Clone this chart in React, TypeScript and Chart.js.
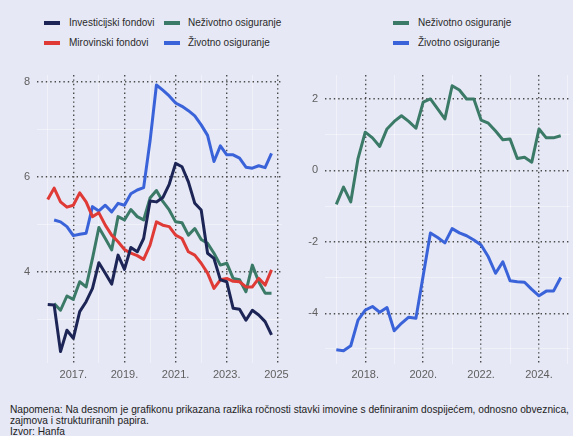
import React, { useEffect, useRef } from 'react';
import { Chart, registerables } from 'chart.js';

Chart.register(...registerables);

// ---------- data ----------
const LEFT_YEARS = [2016, 2017, 2018, 2019, 2020, 2021, 2022, 2023, 2024];
const RIGHT_YEARS = [2017, 2018, 2019, 2020, 2021, 2022, 2023, 2024];
const QUARTERS = [0, 0.25, 0.5, 0.75];

const INVESTICIJSKI = [3.31, 3.3, 2.32, 2.77, 2.6, 3.16, 3.37, 3.65, 4.19, 3.97, 3.74, 4.35, 4.05, 4.51, 4.42, 4.7, 5.49, 5.47, 5.56, 5.84, 6.28, 6.21, 5.89, 5.44, 5.3, 4.39, 4.28, 3.83, 3.79, 3.23, 3.21, 2.98, 3.19, 3.09, 2.95, 2.67];
const MIROVINSKI = [5.52, 5.76, 5.47, 5.36, 5.4, 5.66, 5.47, 5.16, 5.24, 4.98, 4.77, 4.63, 4.47, 4.39, 4.34, 4.26, 4.56, 5.05, 4.98, 4.95, 4.77, 4.7, 4.42, 4.35, 4.18, 3.97, 3.65, 3.83, 3.86, 3.8, 3.79, 3.68, 3.68, 3.86, 3.72, 4.04];
const NEZIVOTNO_L = [null, 3.33, 3.19, 3.49, 3.42, 3.79, 3.68, 4.28, 4.93, 4.7, 4.46, 5.16, 5.09, 5.31, 5.16, 5.09, 5.55, 5.71, 5.48, 5.3, 5.05, 5.03, 4.77, 4.91, 4.68, 4.6, 4.39, 4.14, 4.18, 3.86, 3.83, 3.58, 4.14, 3.79, 3.55, 3.55];
const ZIVOTNO_L = [null, 5.09, 5.05, 4.95, 4.76, 4.79, 4.81, 5.37, 5.28, 5.4, 5.26, 5.44, 5.4, 5.64, 5.72, 5.77, 6.75, 7.93, 7.82, 7.7, 7.55, 7.48, 7.39, 7.28, 7.09, 6.87, 6.32, 6.65, 6.46, 6.46, 6.39, 6.2, 6.18, 6.23, 6.19, 6.49];

const NEZIVOTNO_R = [-0.95, -0.47, -0.88, 0.33, 1.07, 0.91, 0.67, 1.16, 1.37, 1.53, 1.37, 1.18, 1.91, 2.0, 1.72, 1.44, 2.37, 2.25, 2.0, 2.0, 1.41, 1.32, 1.1, 0.86, 0.88, 0.33, 0.37, 0.23, 1.16, 0.91, 0.91, 0.97];
const ZIVOTNO_R = [-5.02, -5.05, -4.91, -4.19, -3.91, -3.81, -3.97, -3.84, -4.49, -4.28, -4.11, -4.14, -2.95, -1.75, -1.88, -2.03, -1.63, -1.75, -1.83, -1.95, -2.09, -2.42, -2.88, -2.56, -3.09, -3.12, -3.13, -3.33, -3.51, -3.38, -3.38, -3.0];

const LEFT_X_TICKS = [2016, 2017, 2018, 2019, 2020, 2021, 2022, 2023, 2024, 2025];
const LEFT_X_LABELS = [2017, 2019, 2021, 2023, 2025];
const LEFT_Y_TICKS = [3, 4, 5, 6, 7, 8];
const LEFT_Y_LABELS = [4, 6, 8];
const RIGHT_X_TICKS = [2017, 2018, 2019, 2020, 2021, 2022, 2023, 2024, 2025];
const RIGHT_X_LABELS = [2018, 2020, 2022, 2024];
const RIGHT_Y_TICKS = [-5, -4, -3, -2, -1, 0, 1, 2];
const RIGHT_Y_LABELS = [-4, -2, 0, 2];

const C_INV = '#1c2556';
const C_MIR = '#e03a36';
const C_NEZ = '#3b7a67';
const C_ZIV = '#3a63da';
const BG = '#e6e8f5';
const FONT = "'Liberation Sans', Arial, sans-serif";

const periods = (years: number[]) => years.flatMap((y) => QUARTERS.map((q) => y + q));
const series = (xs: number[], ys: (number | null)[]) => ys.map((y, i) => ({ x: xs[i], y }));

function makeOptions(cfg: any) {
  const majorX = (v: number) => cfg.xLabels.includes(v);
  const majorY = (v: number) => cfg.yLabels.includes(v);
  return {
    animation: false,
    responsive: false,
    devicePixelRatio: 1,
    layout: { padding: { top: 15, right: cfg.padRight, left: 0, bottom: 0 } },
    plugins: { legend: { display: false }, tooltip: { enabled: false } },
    elements: { point: { radius: 0 }, line: { tension: 0, borderWidth: 3, borderJoinStyle: 'round' } },
    scales: {
      x: {
        type: 'linear',
        min: cfg.xMin,
        max: cfg.xMax,
        afterBuildTicks: (s: any) => { s.ticks = cfg.xTicks.map((v: number) => ({ value: v })); },
        afterFit: (s: any) => { s.height = cfg.xHeight; s.paddingLeft = 0; s.paddingRight = 0; },
        ticks: {
          autoSkip: false,
          maxRotation: 0,
          padding: cfg.xPad,
          color: '#5f5f5f',
          font: { family: FONT, size: 11 },
          callback: (v: any) => (majorX(Number(v)) ? `${v}.` : ''),
        },
        grid: {
          drawTicks: false,
          color: (c: any) => (c.tick && majorX(c.tick.value) ? '#4a4a4a' : 'rgba(255,255,255,0.45)'),
          lineWidth: (c: any) => (c.tick && majorX(c.tick.value) ? 1.4 : 1),
        },
        border: { display: false, dash: (c: any) => (c.tick && majorX(c.tick.value) ? [1.4, 3] : []) },
      },
      y: {
        type: 'linear',
        min: cfg.yMin,
        max: cfg.yMax,
        afterBuildTicks: (s: any) => { s.ticks = cfg.yTicks.map((v: number) => ({ value: v })); },
        afterFit: (s: any) => { s.width = cfg.yWidth; s.paddingTop = 0; s.paddingBottom = 0; },
        ticks: {
          autoSkip: false,
          padding: 7,
          color: '#5f5f5f',
          font: { family: FONT, size: 11 },
          callback: (v: any) => (majorY(Number(v)) ? String(v) : ''),
        },
        grid: {
          drawTicks: false,
          color: (c: any) => (c.tick && majorY(c.tick.value) ? '#4a4a4a' : 'rgba(255,255,255,0.45)'),
          lineWidth: (c: any) => (c.tick && majorY(c.tick.value) ? 1.4 : 1),
        },
        border: { display: false, dash: (c: any) => (c.tick && majorY(c.tick.value) ? [1.4, 3] : []) },
      },
    },
  };
}

function ChartCanvas({ left, width, build }: { left: number; width: number; build: (c: HTMLCanvasElement) => Chart }) {
  const ref = useRef<HTMLCanvasElement | null>(null);
  useEffect(() => {
    if (!ref.current) return;
    const chart = build(ref.current);
    return () => chart.destroy();
  }, []);
  return (
    <canvas
      ref={ref}
      width={width}
      height={330}
      style={{ position: 'absolute', left, top: 60, width, height: 330 }}
    />
  );
}

const legendText: React.CSSProperties = {
  position: 'absolute',
  fontFamily: FONT,
  fontSize: 10,
  lineHeight: '14px',
  color: '#2a2a2a',
  whiteSpace: 'nowrap',
};

function LegendItem({ x, y, color, label, textX }: { x: number; y: number; color: string; label: string; textX: number }) {
  return (
    <>
      <div style={{ position: 'absolute', left: x, top: y - 2, width: 16, height: 4, background: color }} />
      <span style={{ ...legendText, left: textX, top: y - 7 }}>{label}</span>
    </>
  );
}

export default function App() {
  const lx = periods(LEFT_YEARS);
  const rx = periods(RIGHT_YEARS);

  const buildLeft = (c: HTMLCanvasElement) =>
    new Chart(c, {
      type: 'line',
      data: {
        datasets: [
          { label: 'Investicijski fondovi', data: series(lx, INVESTICIJSKI), borderColor: C_INV, backgroundColor: C_INV },
          { label: 'Mirovinski fondovi', data: series(lx, MIROVINSKI), borderColor: C_MIR, backgroundColor: C_MIR },
          { label: 'Neživotno osiguranje', data: series(lx, NEZIVOTNO_L), borderColor: C_NEZ, backgroundColor: C_NEZ },
          { label: 'Životno osiguranje', data: series(lx, ZIVOTNO_L), borderColor: C_ZIV, backgroundColor: C_ZIV },
        ],
      },
      options: makeOptions({
        xMin: 2015.58, xMax: 2025.16, yMin: 2.08, yMax: 8.14,
        xTicks: LEFT_X_TICKS, xLabels: LEFT_X_LABELS, yTicks: LEFT_Y_TICKS, yLabels: LEFT_Y_LABELS,
        padRight: 7, xHeight: 27, yWidth: 37, xPad: 5,
      }) as any,
    });

  const buildRight = (c: HTMLCanvasElement) =>
    new Chart(c, {
      type: 'line',
      data: {
        datasets: [
          { label: 'Neživotno osiguranje', data: series(rx, NEZIVOTNO_R), borderColor: C_NEZ, backgroundColor: C_NEZ },
          { label: 'Životno osiguranje', data: series(rx, ZIVOTNO_R), borderColor: C_ZIV, backgroundColor: C_ZIV },
        ],
      },
      options: makeOptions({
        xMin: 2016.61, xMax: 2025.07, yMin: -5.42, yMax: 2.67,
        xTicks: RIGHT_X_TICKS, xLabels: RIGHT_X_LABELS, yTicks: RIGHT_Y_TICKS, yLabels: RIGHT_Y_LABELS,
        padRight: 3, xHeight: 26, yWidth: 36, xPad: 4,
      }) as any,
    });

  return (
    <div style={{ position: 'absolute', left: 0, top: 0, width: 573, height: 436, background: BG, overflow: 'hidden' }}>
      <LegendItem x={44} y={23} color={C_INV} label="Investicijski fondovi" textX={69} />
      <LegendItem x={164} y={23} color={C_NEZ} label="Neživotno osiguranje" textX={188} />
      <LegendItem x={44} y={43} color={C_MIR} label="Mirovinski fondovi" textX={69} />
      <LegendItem x={164} y={43} color={C_ZIV} label="Životno osiguranje" textX={188} />

      <LegendItem x={393} y={23} color={C_NEZ} label="Neživotno osiguranje" textX={418} />
      <LegendItem x={393} y={43} color={C_ZIV} label="Životno osiguranje" textX={418} />

      <ChartCanvas left={0} width={289} build={buildLeft} />
      <ChartCanvas left={289} width={284} build={buildRight} />

      <div
        style={{
          position: 'absolute',
          left: 10,
          top: 404,
          fontFamily: FONT,
          fontSize: 10.2,
          lineHeight: '11px',
          color: '#222',
          whiteSpace: 'nowrap',
        }}
      >
        Napomena: Na desnom je grafikonu prikazana razlika ročnosti stavki imovine s definiranim dospijećem, odnosno obveznica,
        <br />
        zajmova i strukturiranih papira.
        <br />
        Izvor: Hanfa
      </div>
    </div>
  );
}
